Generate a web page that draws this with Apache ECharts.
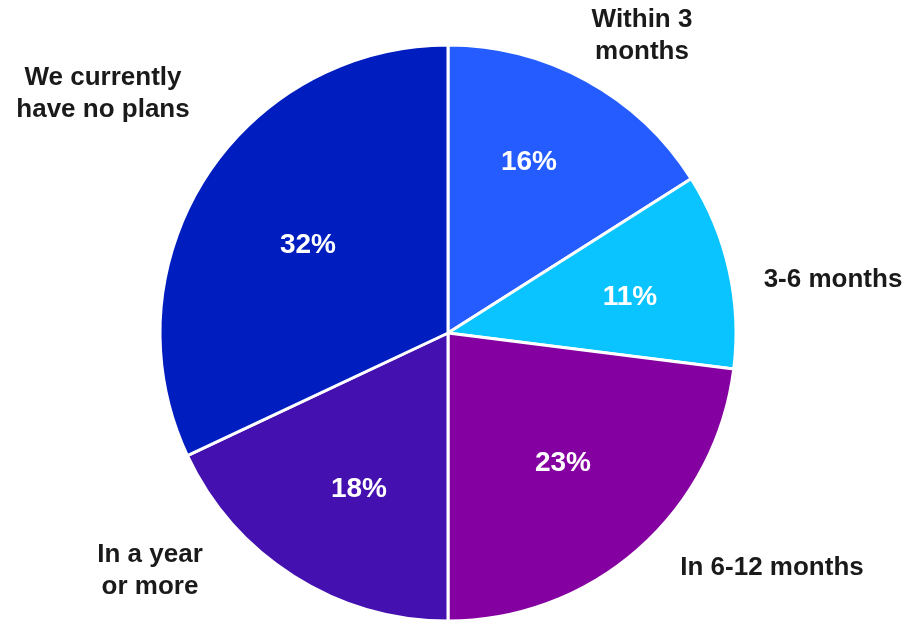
<!DOCTYPE html>
<html>
<head>
<meta charset="utf-8">
<script src="https://cdn.jsdelivr.net/npm/echarts@6/dist/echarts.min.js"></script>
<style>
  html, body { margin: 0; padding: 0; background: #ffffff; }
  #chart { width: 908px; height: 620px; }
</style>
</head>
<body>
<div id="chart"></div>
<script>
// Timing of planned adoption, share of respondents (%)
const categories = ['Within 3\nmonths', '3-6 months', 'In 6-12 months', 'In a year\nor more', 'We currently\nhave no plans'];
const shares = [16, 11, 23, 18, 32];
const sliceColors = ['#245cff', '#0ac4ff', '#8500a0', '#4410b0', '#001ec0'];

// Text centres (px) for the category captions and the percentage labels
const captionAnchors = [[642, 36], [833, 280], [772, 568], [150, 571], [103, 94]];
const percentAnchors = [[529, 162], [630, 297], [563, 463], [359, 489], [308, 245]];

const pieCenter = [448, 333];
const pieRadius = 288;
const fontFamily = '"Liberation Sans", Arial, sans-serif';

const pieData = categories.map((name, i) => ({
  name: name,
  value: shares[i],
  itemStyle: { color: sliceColors[i] }
}));

function anchorLayout(anchors) {
  return function (params) {
    const a = anchors[params.dataIndex];
    return { x: a[0], y: a[1], align: 'center', verticalAlign: 'middle' };
  };
}

const chart = echarts.init(document.getElementById('chart'), null, { renderer: 'canvas' });

chart.setOption({
  backgroundColor: '#ffffff',
  animation: false,
  series: [
    {
      // visible slices with percentage labels
      type: 'pie',
      center: pieCenter,
      radius: [0, pieRadius],
      startAngle: 90,
      clockwise: true,
      silent: true,
      itemStyle: { borderColor: '#ffffff', borderWidth: 3 },
      label: {
        show: true,
        position: 'inside',
        formatter: p => p.value + '%',
        color: '#ffffff',
        fontSize: 28,
        fontWeight: 'bold',
        fontFamily: fontFamily,
        overflow: 'none'
      },
      labelLine: { show: false },
      labelLayout: anchorLayout(percentAnchors),
      data: pieData
    },
    {
      // transparent twin used only for the category captions
      type: 'pie',
      center: pieCenter,
      radius: [0, pieRadius],
      startAngle: 90,
      clockwise: true,
      silent: true,
      itemStyle: { color: 'transparent', borderWidth: 0 },
      label: {
        show: true,
        position: 'outside',
        formatter: p => p.name,
        color: '#1a1a1a',
        fontSize: 26,
        fontWeight: 'bold',
        lineHeight: 32,
        align: 'center',
        fontFamily: fontFamily,
        overflow: 'none',
        width: 260
      },
      labelLine: { show: false },
      labelLayout: anchorLayout(captionAnchors),
      data: pieData.map(d => ({ name: d.name, value: d.value }))
    }
  ]
});
</script>
</body>
</html>
